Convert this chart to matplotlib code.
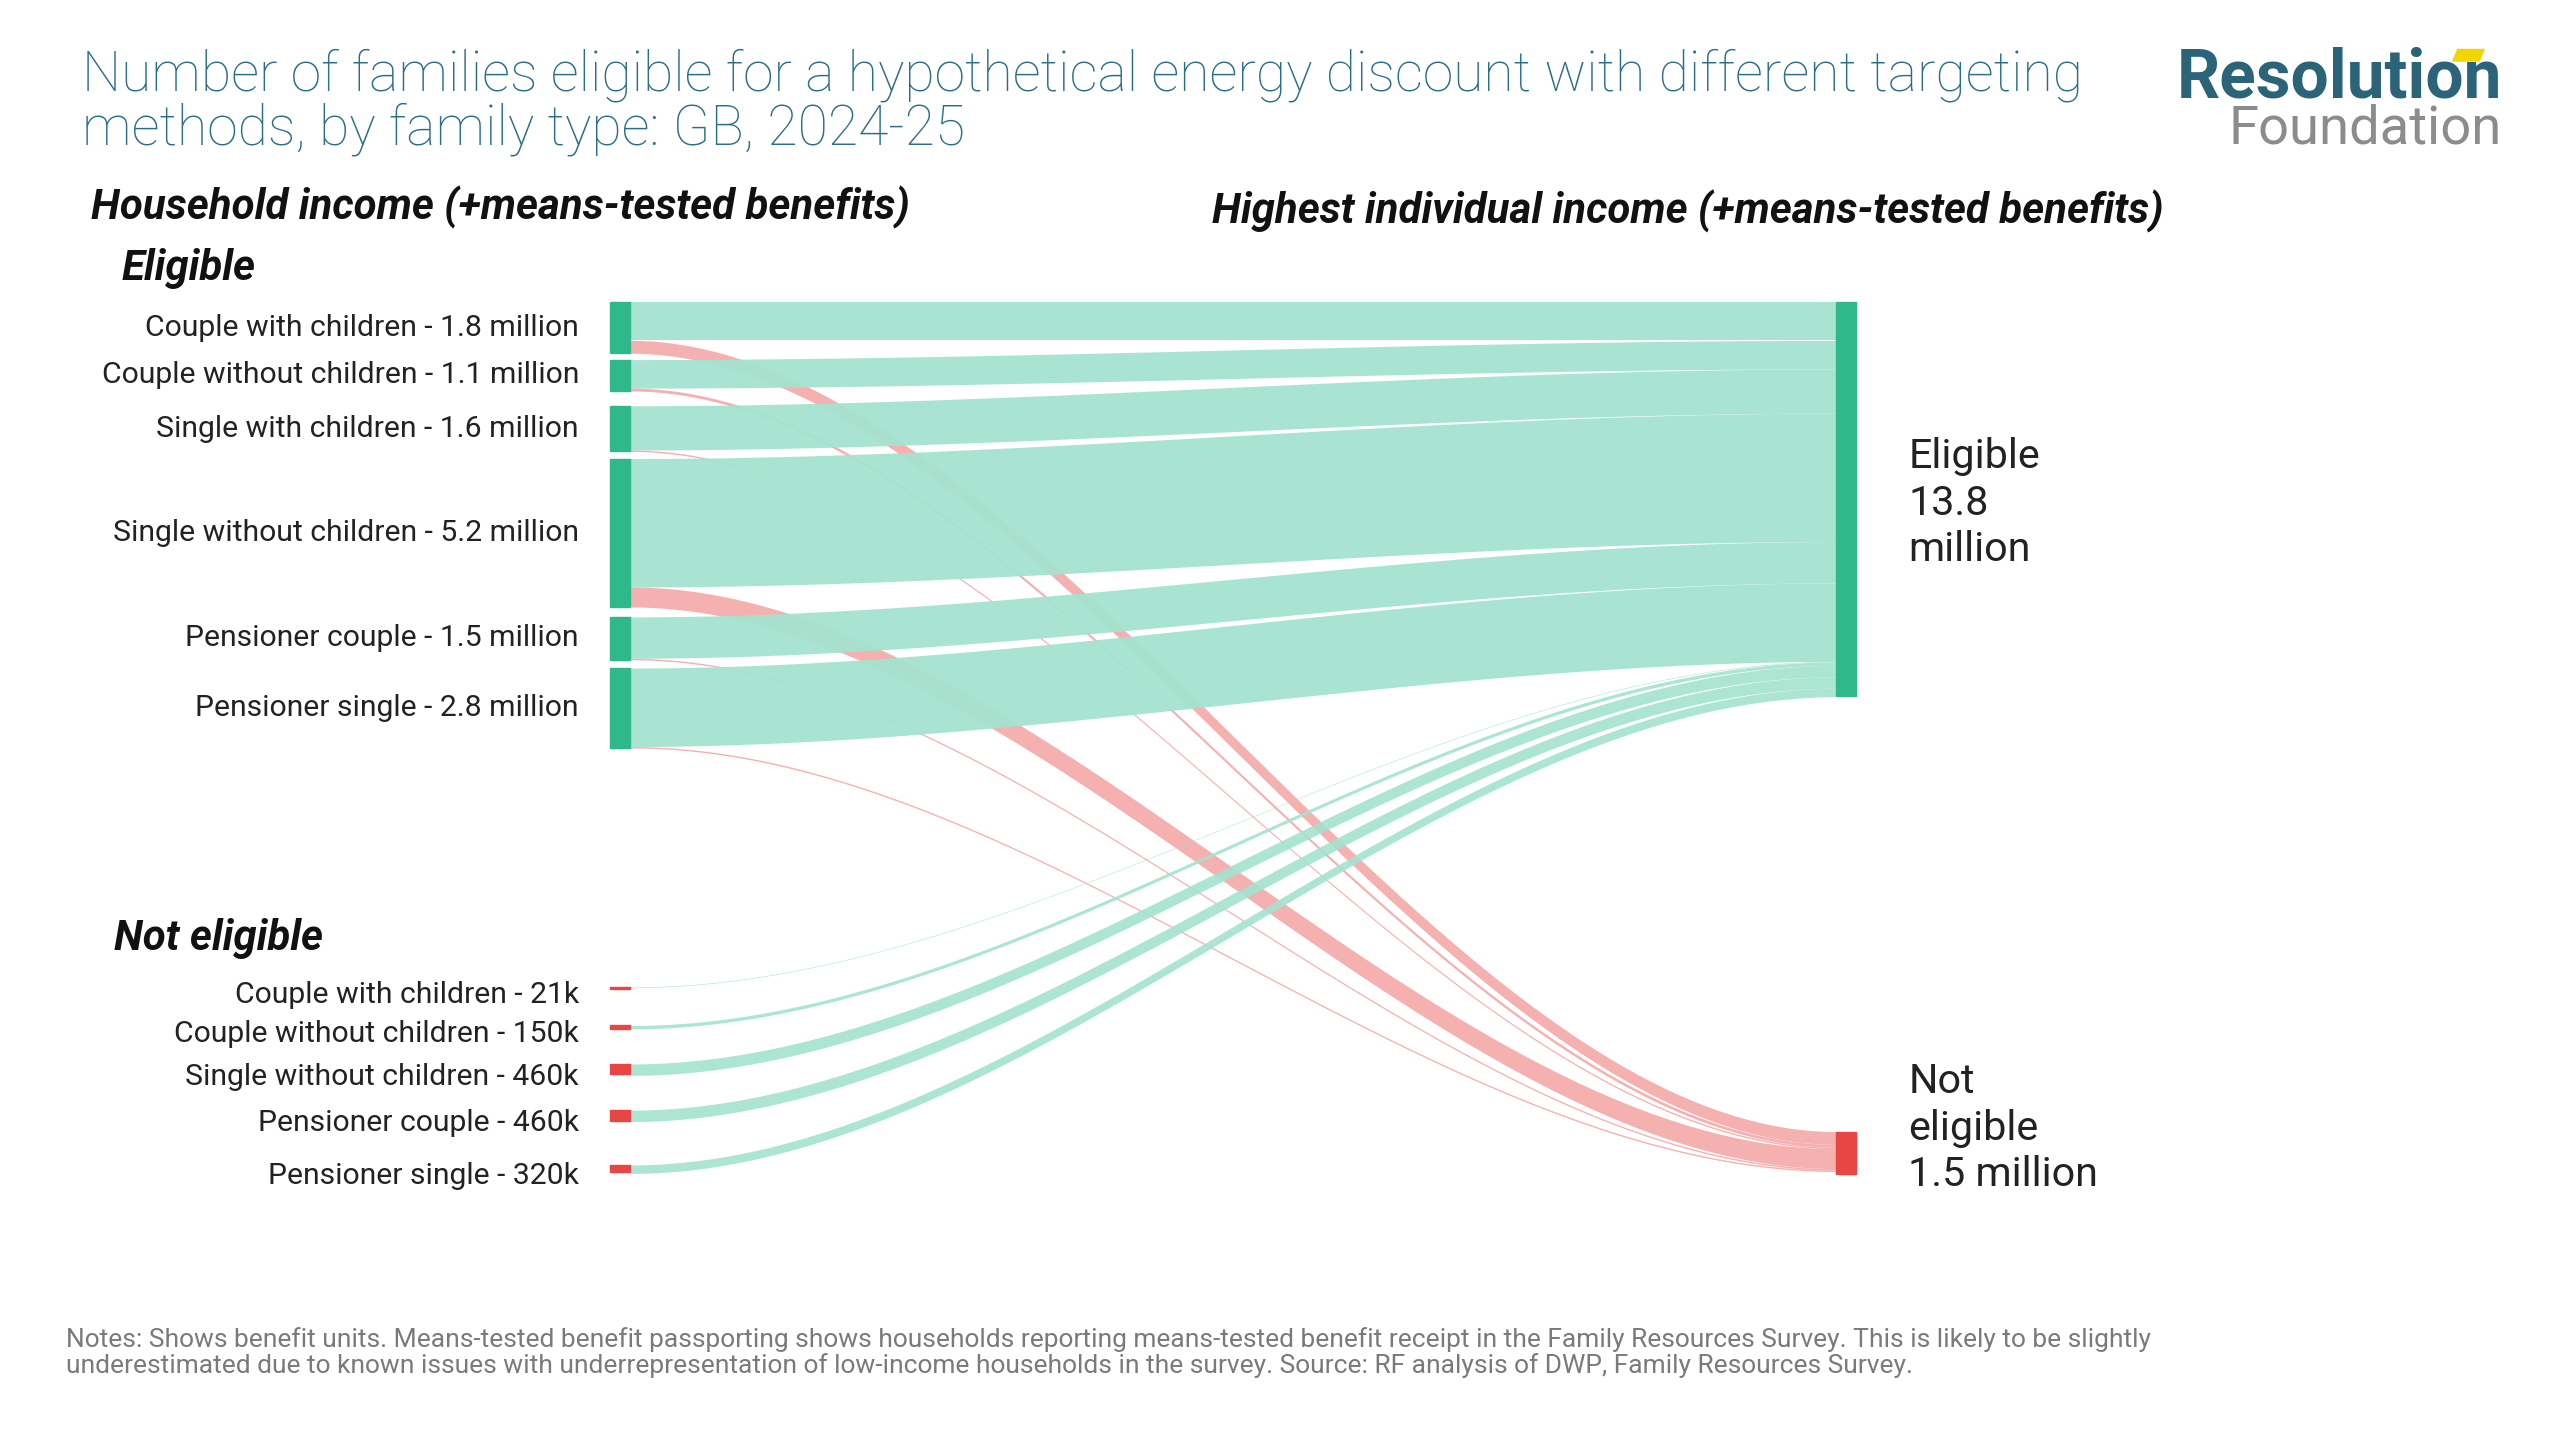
import numpy as np
import matplotlib.pyplot as plt
from matplotlib.patches import Rectangle, Polygon

plt.rcParams['font.family'] = ['Roboto', 'DejaVu Sans']

# data (millions)
elig_labels = ['Couple with children - 1.8 million', 'Couple without children - 1.1 million',
               'Single with children - 1.6 million', 'Single without children - 5.2 million',
               'Pensioner couple - 1.5 million', 'Pensioner single - 2.8 million']
elig_total = [1.8, 1.1, 1.6, 5.2, 1.5, 2.8]
elig_to_not = [0.45, 0.10, 0.05, 0.70, 0.05, 0.05]

notel_labels = ['Couple with children - 21k', 'Couple without children - 150k',
                'Single without children - 460k', 'Pensioner couple - 460k',
                'Pensioner single - 320k']
notel_total = [0.021, 0.15, 0.46, 0.46, 0.32]
notel_to_elig = [0.02, 0.12, 0.40, 0.40, 0.30]

right_elig = 13.8
right_not = 1.5

# layout in reference pixel space (1552 x 873)
K = 17.3
XL, XR, NW = 370, 1113, 12
elig_tops = [183, 218, 246, 278, 374, 405]
notel_centres = [599, 623, 649, 677, 709]
R_ELIG_TOP, R_NOT_TOP = 183, 686

G_NODE, G_FLOW = '#2fb98a', '#a4e3cf'
R_NODE, R_FLOW = '#e84545', '#f39c9c'
S = 2560 / 1552

fig = plt.figure(figsize=(25.6, 14.4), dpi=100)
ax = fig.add_axes([0, 0, 1, 1])
ax.set_xlim(0, 1552)
ax.set_ylim(873, 0)
ax.axis('off')


def fs(px):
    return px * S * 0.72


def flow(y0, y1, h0, h1, color, alpha):
    t = np.linspace(0, 1, 200)
    s = 3 * t ** 2 - 2 * t ** 3
    x = XL + NW + (XR - XL - NW) * t
    top = y0 + (y1 - y0) * s
    bot = (y0 + h0) + (y1 + h1 - y0 - h0) * s
    ax.fill_between(x, top, bot, color=color, alpha=alpha, lw=0)


r_el = R_ELIG_TOP
r_no = R_NOT_TOP
for top, tot, red, lab in zip(elig_tops, elig_total, elig_to_not, elig_labels):
    green = tot - red
    flow(top, r_el, green * K, green * K, G_FLOW, 0.95)
    r_el += green * K
    flow(top + green * K, r_no, red * K, red * K, R_FLOW, 0.8)
    r_no += red * K
    ax.add_patch(Rectangle((XL, top), NW, tot * K, color=G_NODE, zorder=3))
    ax.text(351, top + tot * K / 2, lab, ha='right', va='center', fontsize=fs(18.3), color='#222222')

for c, tot, gr, lab in zip(notel_centres, notel_total, notel_to_elig, notel_labels):
    h = max(tot * K, 1.2)
    top = c - h / 2
    flow(top, r_el, gr * K, gr * K, G_FLOW, 0.9)
    r_el += gr * K
    ax.add_patch(Rectangle((XL, top), NW, h * 0.8, color=R_NODE, zorder=3))
    ax.text(351, c + 4, lab, ha='right', va='center', fontsize=fs(18.3), color='#222222')

ax.add_patch(Rectangle((XR, R_ELIG_TOP), NW, right_elig * K, color=G_NODE, zorder=3))
ax.add_patch(Rectangle((XR, R_NOT_TOP), NW, right_not * K, color=R_NODE, zorder=3))

ax.text(1157, 305, 'Eligible\n13.8\nmillion', ha='left', va='center', fontsize=fs(25),
        color='#222222', linespacing=1.25)
ax.text(1157, 684, 'Not\neligible\n1.5 million', ha='left', va='center', fontsize=fs(25),
        color='#222222', linespacing=1.25)

hdr = dict(fontsize=fs(25.5), fontweight='bold', fontstyle='italic', color='#111111', va='center')
ax.text(55, 126, 'Household income (+means-tested benefits)', ha='left', **hdr)
ax.text(735, 128, 'Highest individual income (+means-tested benefits)', ha='left', **hdr)
ax.text(74, 163, 'Eligible', ha='left', **hdr)
ax.text(69, 569, 'Not eligible', ha='left', **hdr)

ax.text(50, 62, 'Number of families eligible for a hypothetical energy discount with different targeting\n'
        'methods, by family type: GB, 2024-25', ha='left', va='center', fontsize=fs(33.5),
        color='#2a6f86', fontweight='light', linespacing=1.0)

# logo
ax.text(1517, 48, 'Resolution', ha='right', va='center', fontsize=fs(41), fontweight='bold', color='#2b6478')
ax.text(1517, 78, 'Foundation', ha='right', va='center', fontsize=fs(33), color='#8c8c8c')
ax.add_patch(Polygon([[1490, 30], [1506, 30], [1503, 37], [1487, 37]], color='#f2d600'))

ax.text(40, 820, 'Notes: Shows benefit units. Means-tested benefit passporting shows households reporting '
        'means-tested benefit receipt in the Family Resources Survey. This is likely to be slightly\n'
        'underestimated due to known issues with underrepresentation of low-income households in the '
        'survey. Source: RF analysis of DWP, Family Resources Survey.',
        ha='left', va='center', fontsize=fs(16), color='#7a7a7a', linespacing=1.05)

fig.savefig('out.png', dpi=100)
